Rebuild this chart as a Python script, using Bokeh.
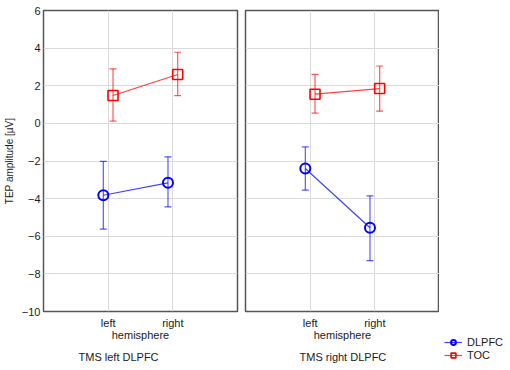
from bokeh.plotting import figure
from bokeh.layouts import row
from bokeh.models import (ColumnDataSource, Whisker, TeeHead, FixedTicker, Range1d,
                          Legend, LegendItem, Title)
from bokeh.embed import file_html
from bokeh.resources import INLINE

# ---------------- data ----------------
hemispheres = ["left", "right"]
panel_titles = ["TMS left DLPFC", "TMS right DLPFC"]
series_names = ["DLPFC", "TOC"]
y_ticks = [-10, -8, -6, -4, -2, 0, 2, 4, 6]

# panel 1: TMS left DLPFC
dlpfc_p1_mean = [-3.82, -3.16]
dlpfc_p1_lo = [-5.62, -4.44]
dlpfc_p1_hi = [-2.02, -1.78]
toc_p1_mean = [1.48, 2.60]
toc_p1_lo = [0.12, 1.48]
toc_p1_hi = [2.90, 3.78]

# panel 2: TMS right DLPFC
dlpfc_p2_mean = [-2.40, -5.55]
dlpfc_p2_lo = [-3.55, -7.30]
dlpfc_p2_hi = [-1.25, -3.85]
toc_p2_mean = [1.55, 1.85]
toc_p2_lo = [0.55, 0.65]
toc_p2_hi = [2.60, 3.05]

BLUE = "#0000ff"
RED = "#ff0000"
FONT = "Liberation Sans"
TXT = "#1a1a1a"
FRAME_W = 194
FRAME_H = 301
TOP = 10
TOTAL_H = 364


def whisker(src, color):
    head = dict(size=7, line_color=color, line_alpha=0.65, line_width=1.2)
    return Whisker(base="x", upper="hi", lower="lo", source=src,
                   line_color=color, line_alpha=0.65, line_width=1.2,
                   upper_head=TeeHead(**head), lower_head=TeeHead(**head))


def draw_series(p, src_dl, src_tc):
    ld = p.line("x", "y", source=src_dl, line_color=BLUE, line_alpha=0.75, line_width=1.2)
    lt = p.line("x", "y", source=src_tc, line_color=RED, line_alpha=0.75, line_width=1.2)
    md = p.scatter("x", "y", source=src_dl, marker="circle", size=10,
                   fill_color=None, line_color=BLUE, line_width=2)
    mt = p.scatter("x", "y", source=src_tc, marker="square", size=10,
                   fill_color=None, line_color=RED, line_width=1.6)
    return (ld, md), (lt, mt)


def sources(dl_m, dl_lo, dl_hi, tc_m, tc_lo, tc_hi):
    pos = [1, 2]
    off = 0.075
    src_dl = ColumnDataSource(dict(x=[v - off for v in pos], y=dl_m, lo=dl_lo, hi=dl_hi))
    src_tc = ColumnDataSource(dict(x=[v + off for v in pos], y=tc_m, lo=tc_lo, hi=tc_hi))
    return src_dl, src_tc


def make_panel(title, title_offset, srcs, first):
    p = figure(frame_width=FRAME_W, frame_height=FRAME_H,
               x_range=Range1d(0, 3), y_range=Range1d(-10, 6),
               output_backend="svg", toolbar_location=None,
               min_border_top=TOP, min_border_bottom=0,
               min_border_left=0 if first else 4,
               min_border_right=4 if first else 0)
    p.outline_line_color = "#555555"
    p.outline_line_width = 1.5
    p.background_fill_color = "white"
    p.border_fill_color = "white"

    src_dl, src_tc = srcs
    p.add_layout(whisker(src_dl, BLUE))
    p.add_layout(whisker(src_tc, RED))
    draw_series(p, src_dl, src_tc)

    pos = [1, 2]
    p.xaxis.ticker = FixedTicker(ticks=pos)
    p.xaxis.major_label_overrides = {1: hemispheres[0], 2: hemispheres[1]}
    p.xaxis.axis_label = "hemisphere"
    p.yaxis.ticker = FixedTicker(ticks=y_ticks)
    for ax in (p.xaxis, p.yaxis):
        ax.axis_line_color = None
        ax.major_tick_line_color = None
        ax.minor_tick_line_color = None
        ax.major_tick_out = 0
        ax.major_tick_in = 0
        ax.minor_tick_out = 0
        ax.major_label_text_font = FONT
        ax.major_label_text_font_size = "11px"
        ax.major_label_text_color = TXT
        ax.axis_label_text_font = FONT
        ax.axis_label_text_font_style = "normal"
        ax.axis_label_text_color = TXT
    p.xaxis.axis_label_text_font_size = "11px"
    p.xaxis.major_label_standoff = 5
    p.xaxis.axis_label_standoff = -3
    if first:
        p.yaxis.axis_label = "TEP amplitude [µV]"
        p.yaxis.axis_label_text_font_size = "10px"
        p.yaxis.major_label_standoff = 3
        p.yaxis.axis_label_standoff = 4
    else:
        p.yaxis.visible = False

    p.xgrid.ticker = FixedTicker(ticks=pos)
    p.ygrid.ticker = FixedTicker(ticks=y_ticks)
    p.grid.grid_line_color = "#dadada"
    p.grid.grid_line_width = 1

    t = Title(text=title, align="left", offset=title_offset,
              text_font=FONT, text_font_size="11px", text_font_style="normal",
              text_color=TXT, standoff=11)
    p.add_layout(t, "below")
    return p


srcs1 = sources(dlpfc_p1_mean, dlpfc_p1_lo, dlpfc_p1_hi, toc_p1_mean, toc_p1_lo, toc_p1_hi)
srcs2 = sources(dlpfc_p2_mean, dlpfc_p2_lo, dlpfc_p2_hi, toc_p2_mean, toc_p2_lo, toc_p2_hi)
p1 = make_panel(panel_titles[0], 35, srcs1, True)
p2 = make_panel(panel_titles[1], 54, srcs2, False)

# legend panel (its marks sit outside its visible range, only the legend shows)
pl = figure(frame_width=70, frame_height=TOTAL_H,
            x_range=Range1d(100, 101), y_range=Range1d(100, 101),
            output_backend="svg", toolbar_location=None,
            min_border=0, outline_line_color=None)
pl.axis.visible = False
pl.grid.visible = False
rd, rt = draw_series(pl, *srcs2)
legend = Legend(items=[LegendItem(label=series_names[0], renderers=list(rd)),
                       LegendItem(label=series_names[1], renderers=list(rt))],
                location=(5, 3), orientation="vertical",
                border_line_color=None, background_fill_alpha=0,
                label_text_font=FONT, label_text_font_size="11px", label_text_color=TXT,
                glyph_width=18, glyph_height=12, label_height=12, spacing=1,
                padding=0, margin=0, label_standoff=5)
pl.add_layout(legend)

layout = row(p1, p2, pl, spacing=0)
open("out.html", "w").write(file_html(layout, INLINE))
